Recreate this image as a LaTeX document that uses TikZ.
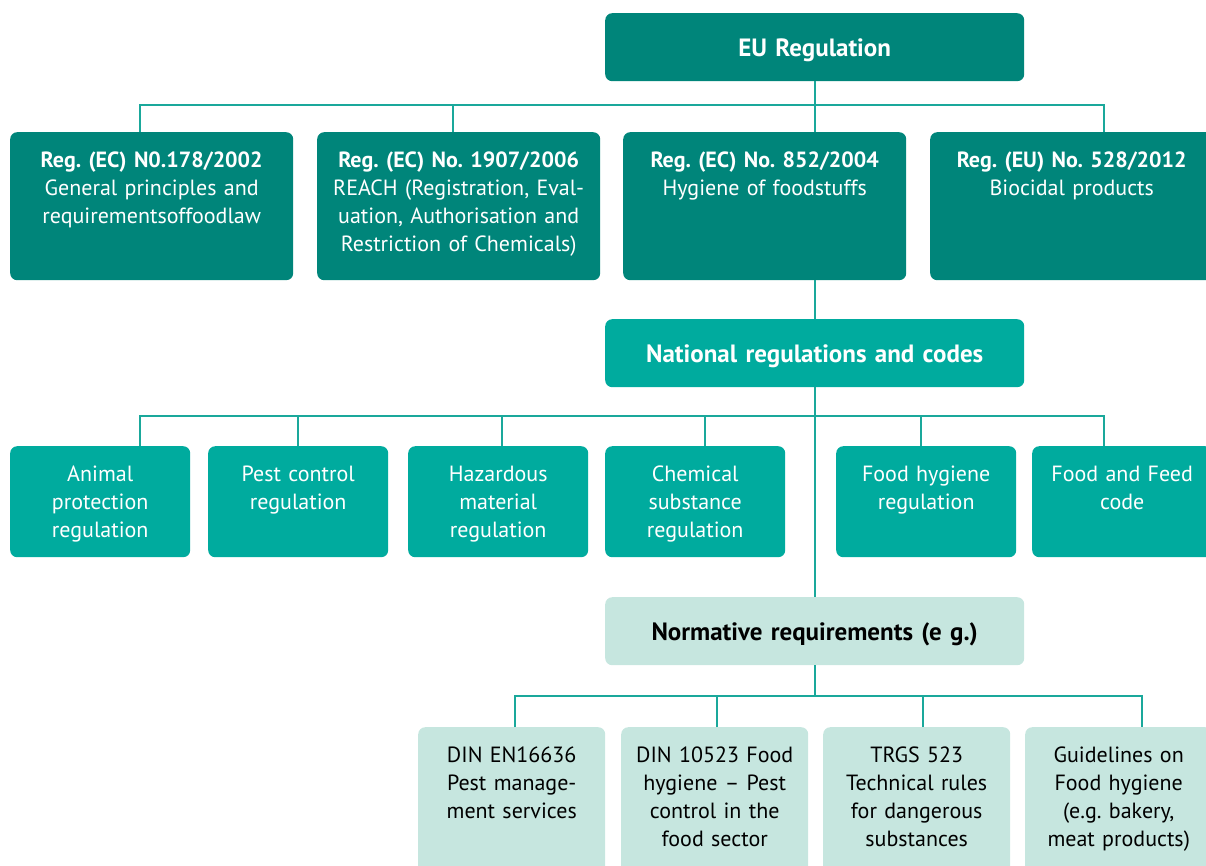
\documentclass[tikz,border=0pt]{standalone}
\usepackage{fontspec}
\setmainfont{PT Sans}
\usetikzlibrary{positioning}

\definecolor{tealdark}{HTML}{00857A}
\definecolor{tealmid}{HTML}{00AB9E}
\definecolor{teallight}{HTML}{C6E6DF}
\definecolor{tealline}{HTML}{1AA89B}

\begin{document}
\frenchspacing
\begin{tikzpicture}[x=1pt, y=-1pt,
	every node/.style={font=\fontsize{22}{28}\selectfont},
	box/.style={rounded corners=7pt, inner sep=0pt, align=center, anchor=north west},
	head/.style={box, text width=419pt, text height=43pt, text depth=25pt, font=\fontsize{25}{28}\selectfont\bfseries},
	regbox/.style={box, fill=tealdark, text=white, text width=283pt, text height=35pt, text depth=113pt},
	natbox/.style={box, fill=tealmid, text=white, text width=180pt, text height=35pt, text depth=76pt},
	normbox/.style={box, fill=teallight, text=black, text width=187pt, text height=35pt, text depth=125pt},
	link/.style={draw=tealline, line width=2pt}]
	\useasboundingbox (0,0) rectangle (1206,865);

	% EU level
	\node[head, fill=tealdark, text=white] (eu) at (605,13) {EU Regulation};
	\node[regbox] (r1) at (10,132) {{\bfseries Reg. (EC) N0.178/2002}\\General principles and\\requirementsoffoodlaw};
	\node[regbox] (r2) at (317,132) {{\bfseries Reg. (EC) No. 1907/2006}\\REACH (Registration, Eval-\\uation, Authorisation and\\Restriction of Chemicals)};
	\node[regbox] (r3) at (623,132) {{\bfseries Reg. (EC) No. 852/2004}\\Hygiene of foodstuffs};
	\node[regbox] (r4) at (930,132) {{\bfseries Reg. (EU) No. 528/2012}\\Biocidal products};

	% national level
	\node[head, fill=tealmid, text=white] (nat) at (605,319) {National regulations and codes};
	\node[natbox] (n1) at (10,446) {Animal\\protection\\regulation};
	\node[natbox] (n2) at (208,446) {Pest control\\regulation};
	\node[natbox] (n3) at (408,446) {Hazardous\\material\\regulation};
	\node[natbox] (n4) at (605,446) {Chemical\\substance\\regulation};
	\node[natbox] (n5) at (836,446) {Food hygiene\\regulation};
	\node[natbox] (n6) at (1032,446) {Food and Feed\\code};

	% normative level
	\node[head, fill=teallight, text=black] (norm) at (605,597) {Normative requirements (e g.)};
	\node[normbox] (s1) at (418,727) {DIN EN16636\\Pest manage-\\ment services};
	\node[normbox] (s2) at (621,727) {DIN 10523 Food\\hygiene -- Pest\\control in the\\food sector};
	\node[normbox] (s3) at (823,727) {TRGS 523\\Technical rules\\for dangerous\\substances};
	\node[normbox] (s4) at (1025,727) {Guidelines on\\Food hygiene\\(e.g. bakery,\\meat products)};

	% connectors
	\draw[link] (eu.south) -- (eu.south |- r3.north);
	\draw[link] ([xshift=-11.5pt]r1.north) -- ++(0,-27) -| ([xshift=32.5pt]r4.north);
	\draw[link] ([xshift=-5.5pt]r2.north) -- ++(0,-27);
	\draw[link] (nat.north |- r3.south) -- (nat.north);

	\draw[link] (nat.south) -- (norm.north);
	\draw[link] ([xshift=40pt]n1.north) -- ++(0,-30) -| ([xshift=-18pt]n6.north);
	\draw[link] (n2.north) -- ++(0,-30);
	\draw[link] ([xshift=4pt]n3.north) -- ++(0,-30);
	\draw[link] ([xshift=10pt]n4.north) -- ++(0,-30);
	\draw[link] ([xshift=-5pt]n5.north) -- ++(0,-30);

	\draw[link] (norm.south) -- ++(0,31);
	\draw[link] ([xshift=3.5pt]s1.north) -- ++(0,-31) -| ([xshift=23.5pt]s4.north);
	\draw[link] ([xshift=2.5pt]s2.north) -- ++(0,-31);
	\draw[link] ([xshift=6.5pt]s3.north) -- ++(0,-31);
\end{tikzpicture}
\end{document}
